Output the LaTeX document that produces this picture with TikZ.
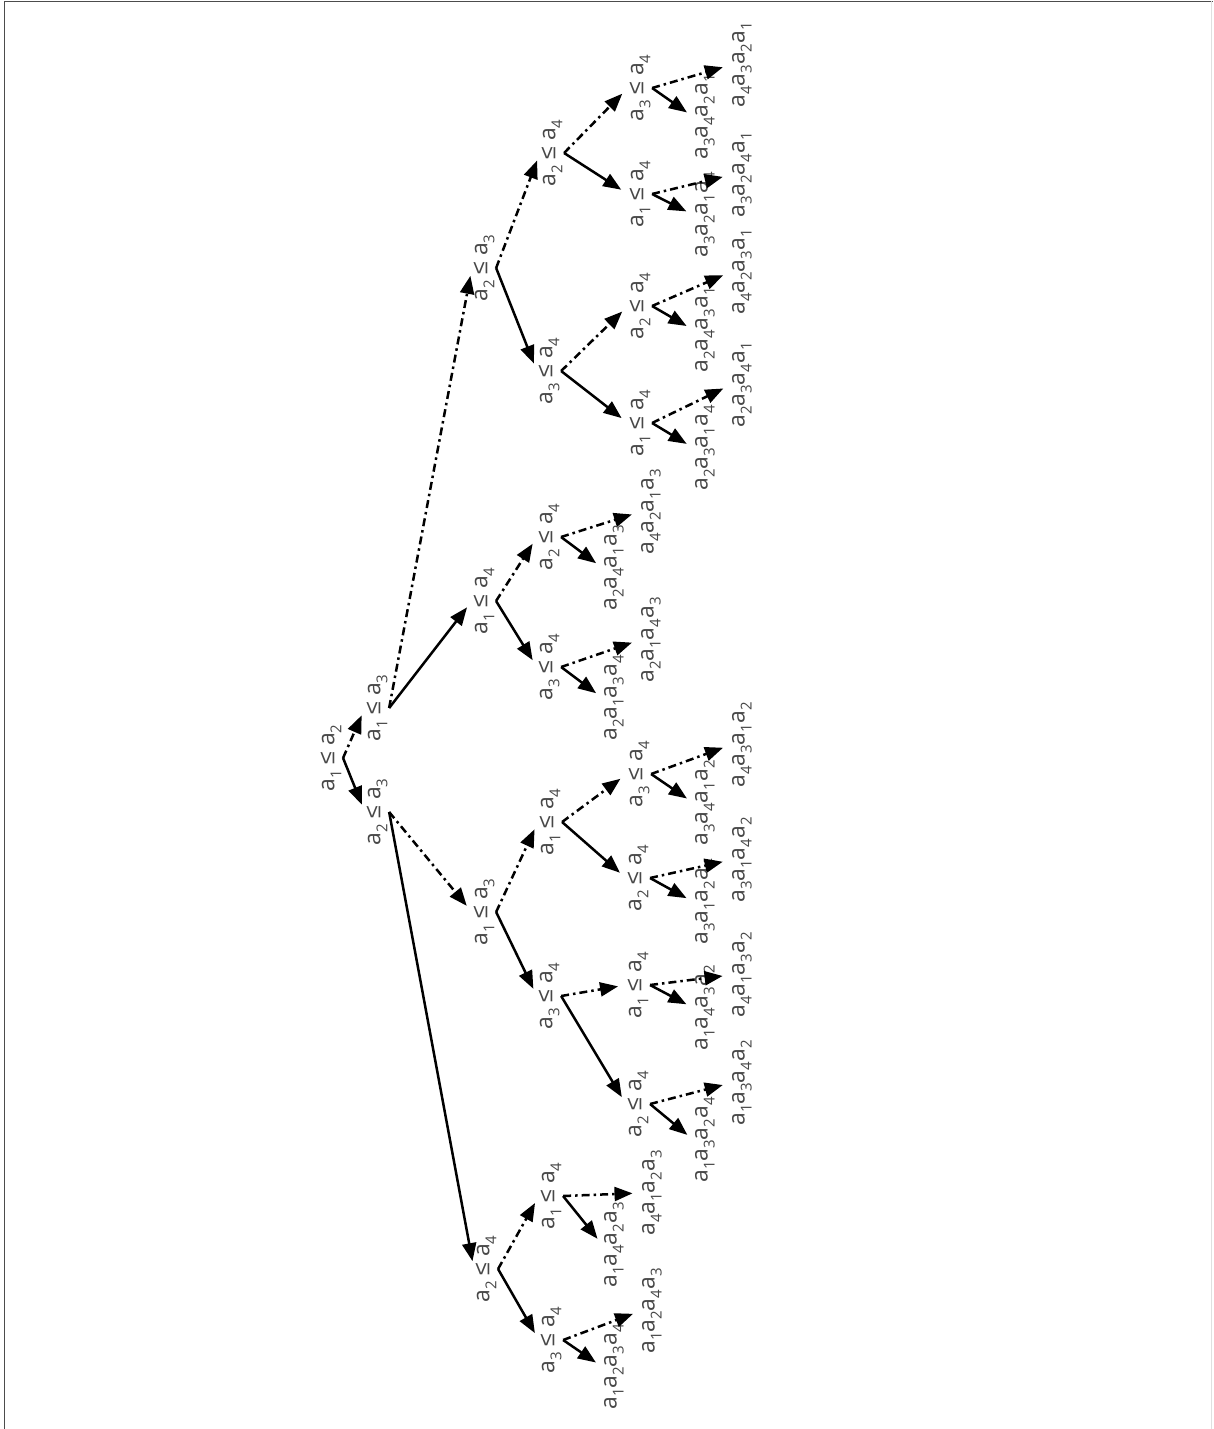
\documentclass[tikz,border=0pt]{standalone}
\usepackage{fontspec}
\setmainfont{Open Sans}
\newfontfamily\symf{Liberation Sans}
\usetikzlibrary{arrows.meta}
\newcommand\ai[1]{a\raisebox{-0.3em}{\fontsize{15pt}{15pt}\selectfont #1}}
\newcommand\cmpn[2]{\ai{#1}\hspace{0.25em}{\symf ≤}\hspace{0.25em}\ai{#2}}
\newcommand\lf[4]{\ai{#1}\ai{#2}\ai{#3}\ai{#4}}
\tikzset{
  lbl/.style={rotate=90, inner sep=1.5pt, font=\fontsize{23pt}{25pt}\selectfont, text=black!72},
  solidedge/.style={line width=2.5pt, -{Triangle[length=18pt,width=14pt]}, shorten >=8pt},
  dashedge/.style={solidedge, dash pattern=on 8pt off 4pt on 2.5pt off 4pt},
}
\begin{document}
\begin{tikzpicture}[x=1pt,y=-1pt]
\useasboundingbox (0,0) rectangle (1213,1429);
\fill[white] (0,0) rectangle (1213,1429);
\draw[black!70, line width=1.5pt] (4.5,1429) -- (4.5,1.5) -- (1213,1.5);
\draw[black!12, line width=1pt] (1211.5,1.5) -- (1211.5,1429);
% level 0-1
\node[lbl] (r) at (331,758) {\cmpn{1}{2}};
\node[lbl] (A) at (377,708) {\cmpn{1}{3}};
\node[lbl] (B) at (377,812) {\cmpn{2}{3}};
% level 2
\node[lbl] (AA) at (484,268) {\cmpn{2}{3}};
\node[lbl] (AB) at (484,601) {\cmpn{1}{4}};
\node[lbl] (BA) at (484,912) {\cmpn{1}{3}};
\node[lbl] (BB) at (486,1269) {\cmpn{2}{4}};
% level 3
\node[lbl] (AAA) at (552,153) {\cmpn{2}{4}};
\node[lbl] (AAB) at (549,371) {\cmpn{3}{4}};
\node[lbl] (ABA) at (549,537) {\cmpn{2}{4}};
\node[lbl] (ABB) at (549,667) {\cmpn{3}{4}};
\node[lbl] (BAA) at (550,822) {\cmpn{1}{4}};
\node[lbl] (BAB) at (549,996) {\cmpn{3}{4}};
\node[lbl] (BBA) at (551,1196) {\cmpn{1}{4}};
\node[lbl] (BBB) at (551,1340) {\cmpn{3}{4}};
% level 4
\node[lbl] (AAAA) at (640,88) {\cmpn{3}{4}};
\node[lbl] (AAAB) at (640,194) {\cmpn{1}{4}};
\node[lbl] (AABA) at (640,306) {\cmpn{2}{4}};
\node[lbl] (AABB) at (640,423) {\cmpn{1}{4}};
\node[lbl] (ABAa) at (651,512) {\lf4213};
\node[lbl] (ABAb) at (614,568) {\lf2413};
\node[lbl] (ABBa) at (651,640) {\lf2143};
\node[lbl] (ABBb) at (614,698) {\lf2134};
\node[lbl] (BAAA) at (639,774) {\cmpn{3}{4}};
\node[lbl] (BAAB) at (638,878) {\cmpn{2}{4}};
\node[lbl] (BABA) at (638,985) {\cmpn{1}{4}};
\node[lbl] (BABB) at (638,1104) {\cmpn{2}{4}};
\node[lbl] (BBAa) at (652,1193) {\lf4123};
\node[lbl] (BBAb) at (614,1245) {\lf1423};
\node[lbl] (BBBa) at (652,1311) {\lf1243};
\node[lbl] (BBBb) at (614,1367) {\lf1234};
% level 5
\node[lbl] (L1) at (742,65) {\lf4321};
\node[lbl] (L2) at (705,117) {\lf3421};
\node[lbl] (L3) at (742,175) {\lf3241};
\node[lbl] (L4) at (705,215) {\lf3214};
\node[lbl] (L5) at (742,272) {\lf4231};
\node[lbl] (L6) at (705,330) {\lf2431};
\node[lbl] (L7) at (742,385) {\lf2341};
\node[lbl] (L8) at (705,448) {\lf2314};
\node[lbl] (L9) at (742,745) {\lf4312};
\node[lbl] (L10) at (705,803) {\lf3412};
\node[lbl] (L11) at (742,860) {\lf3142};
\node[lbl] (L12) at (705,902) {\lf3124};
\node[lbl] (L13) at (742,975) {\lf4132};
\node[lbl] (L14) at (705,1008) {\lf1432};
\node[lbl] (L15) at (742,1083) {\lf1342};
\node[lbl] (L16) at (705,1140) {\lf1324};
% edges
\draw[dashedge] (r.south) -- (A.north);
\draw[solidedge] (r.south) -- (B.north);
\draw[dashedge] (A.south) -- (AA.north);
\draw[solidedge] (A.south) -- (AB.north);
\draw[dashedge] (B.south) -- (BA.north);
\draw[solidedge] (B.south) -- (BB.north);
\draw[dashedge] (AA.south) -- (AAA.north);
\draw[solidedge] (AA.south) -- (AAB.north);
\draw[dashedge] (AB.south) -- (ABA.north);
\draw[solidedge] (AB.south) -- (ABB.north);
\draw[dashedge] (BA.south) -- (BAA.north);
\draw[solidedge] (BA.south) -- (BAB.north);
\draw[dashedge] (BB.south) -- (BBA.north);
\draw[solidedge] (BB.south) -- (BBB.north);
\draw[dashedge] (AAA.south) -- (AAAA.north);
\draw[solidedge] (AAA.south) -- (AAAB.north);
\draw[dashedge] (AAB.south) -- (AABA.north);
\draw[solidedge] (AAB.south) -- (AABB.north);
\draw[dashedge] (ABA.south) -- (ABAa.north);
\draw[solidedge] (ABA.south) -- (ABAb.north);
\draw[dashedge] (ABB.south) -- (ABBa.north);
\draw[solidedge] (ABB.south) -- (ABBb.north);
\draw[dashedge] (BAA.south) -- (BAAA.north);
\draw[solidedge] (BAA.south) -- (BAAB.north);
\draw[dashedge] (BAB.south) -- (BABA.north);
\draw[solidedge] (BAB.south) -- (BABB.north);
\draw[dashedge] (BBA.south) -- (BBAa.north);
\draw[solidedge] (BBA.south) -- (BBAb.north);
\draw[dashedge] (BBB.south) -- (BBBa.north);
\draw[solidedge] (BBB.south) -- (BBBb.north);
\draw[dashedge] (AAAA.south) -- (L1.north);
\draw[solidedge] (AAAA.south) -- (L2.north);
\draw[dashedge] (AAAB.south) -- (L3.north);
\draw[solidedge] (AAAB.south) -- (L4.north);
\draw[dashedge] (AABA.south) -- (L5.north);
\draw[solidedge] (AABA.south) -- (L6.north);
\draw[dashedge] (AABB.south) -- (L7.north);
\draw[solidedge] (AABB.south) -- (L8.north);
\draw[dashedge] (BAAA.south) -- (L9.north);
\draw[solidedge] (BAAA.south) -- (L10.north);
\draw[dashedge] (BAAB.south) -- (L11.north);
\draw[solidedge] (BAAB.south) -- (L12.north);
\draw[dashedge] (BABA.south) -- (L13.north);
\draw[solidedge] (BABA.south) -- (L14.north);
\draw[dashedge] (BABB.south) -- (L15.north);
\draw[solidedge] (BABB.south) -- (L16.north);
\end{tikzpicture}
\end{document}
